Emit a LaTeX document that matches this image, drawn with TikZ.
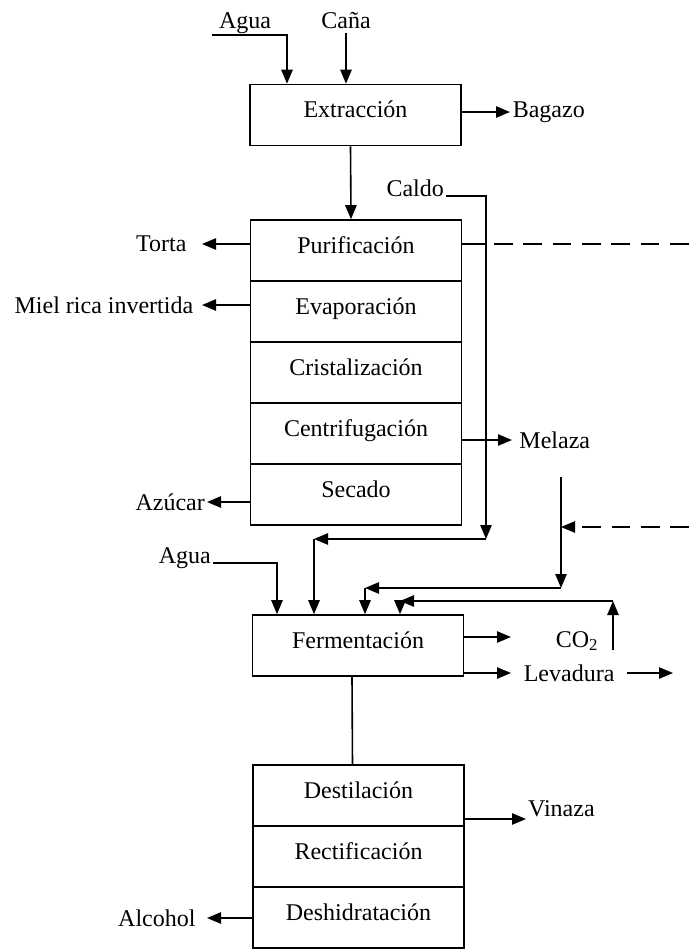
\documentclass[tikz,border=0pt]{standalone}
\usepackage{fontspec}
\setmainfont{Liberation Serif}
\usetikzlibrary{arrows.meta}
\tikzset{
	etapa/.style={draw, minimum width=158.25pt, minimum height=45.75pt, inner sep=0pt, text height=12pt, text depth=8pt},
	flujo/.style={-{Triangle[length=10.5pt,width=8.5pt]}},
	trazos/.style={dash pattern=on 14pt off 8pt},
}
\begin{document}
\begin{tikzpicture}[x=0.75pt,y=-0.75pt,line width=1.2pt,font=\fontsize{18}{21}\selectfont]
	\useasboundingbox (0,0) rectangle (689,951);
	% etapas
	\node[etapa] (ext) at (355.5,115) {Extracción};
	\node[etapa] (pur) at (356,250.5) {Purificación};
	\node[etapa] (eva) at (356,311.5) {Evaporación};
	\node[etapa] (cri) at (356,372.5) {Cristalización};
	\node[etapa] (cen) at (356,433.5) {Centrifugación};
	\node[etapa] (sec) at (356,494.5) {Secado};
	\node[etapa] (fer) at (358,645.5) {Fermentación};
	\node[etapa] (des) at (358.5,795.5) {Destilación};
	\node[etapa] (rec) at (358.5,856.5) {Rectificación};
	\node[etapa] (deh) at (358.5,917.5) {Deshidratación};
	% corrientes
	\node[anchor=base] (agua1) at (245,28) {Agua};
	\node[anchor=base] (cana) at (346,28) {Caña};
	\node[anchor=west, inner xsep=1.5pt] (bagazo) at (510,112) {Bagazo};
	\node[anchor=base east, inner sep=1pt] (caldo) at (446,196) {Caldo};
	\node[anchor=east, inner xsep=11pt] (torta) at (202,244) {Torta};
	\node[anchor=east, inner xsep=6pt] (miel) at (202,305) {Miel rica invertida};
	\node[anchor=west, inner xsep=5pt] (melaza) at (512,440) {Melaza};
	\node[anchor=east, inner xsep=1pt] (azucar) at (207,502) {Azúcar};
	\node[anchor=base east, inner sep=1pt] (agua2) at (213,563) {Agua};
	\node (co2) at (577,641) {CO\textsubscript{2}};
	\node[anchor=west, inner xsep=9pt] (levadura) at (511,673) {Levadura};
	\node[anchor=east, inner xsep=8pt] (alcohol) at (207,918) {Alcohol};
	\coordinate (a1) at (212,35);
	\coordinate (a1b) at (287,35);
	\coordinate (cal2) at (486,539);
	\coordinate (cal3) at (314,539);
	\coordinate (d1a) at (494,244);
	\coordinate (d1b) at (689,244);
	\coordinate (m1) at (561,477);
	\coordinate (m2) at (561,588);
	\coordinate (m3) at (365,588);
	\coordinate (d2) at (689,527);
	\coordinate (a2) at (277,563);
	\coordinate (r1) at (613,650);
	\coordinate (r2) at (613,601);
	\coordinate (r3) at (400,601);
	\coordinate (c1) at (511,637);
	\coordinate (l1) at (673,673);
	\coordinate (v1) at (526,819);
	\node[anchor=south west, inner sep=1pt] (vinaza) at (v1) {Vinaza};
	% flechas
	\draw[flujo] (a1) -- (a1b) -- (a1b |- ext.north);
	\draw[flujo] (cana.south) -- (cana.south |- ext.north);
	\draw[flujo] (ext.east |- bagazo) -- (bagazo);
	\draw[flujo] ([xshift=-3.75pt]ext.south) -- ([xshift=-3.75pt]pur.north);
	\draw[flujo] (caldo.base east) -| (cal2);
	\draw[flujo] (cal2) -- (cal3);
	\draw[flujo] (cal3) -- (cal3 |- fer.north);
	\draw[flujo] (pur.west |- torta) -- (torta);
	\draw (pur.east |- torta) -- (cal2 |- torta);
	\draw[trazos] (d1a) -- (d1b);
	\draw[flujo] (eva.west |- miel) -- (miel);
	\draw[flujo] (cen.east |- melaza) -- (melaza);
	\draw[flujo] (sec.west |- azucar) -- (azucar);
	\draw[flujo] (m1) -- (m2);
	\draw[flujo, trazos] (d2) -- (m1 |- d2);
	\draw[flujo] (m2) -- (m3);
	\draw[flujo] (m3) -- (m3 |- fer.north);
	\draw[flujo] (agua2.base east) -| (a2 |- fer.north);
	\draw[flujo] (r1) -- (r2);
	\draw[flujo] (r2) -- (r3);
	\draw[flujo] (r3) -- (r3 |- fer.north);
	\draw[flujo] (fer.east |- c1) -- (c1);
	\draw[flujo] (fer.east |- levadura) -- (levadura);
	\draw[flujo] (levadura) -- (l1);
	\draw ([xshift=-4.5pt]fer.south) -- ([xshift=-4.5pt]des.north);
	\draw[flujo] (des.east |- v1) -- (v1);
	\draw[flujo] (deh.west |- alcohol) -- (alcohol);
\end{tikzpicture}
\end{document}
